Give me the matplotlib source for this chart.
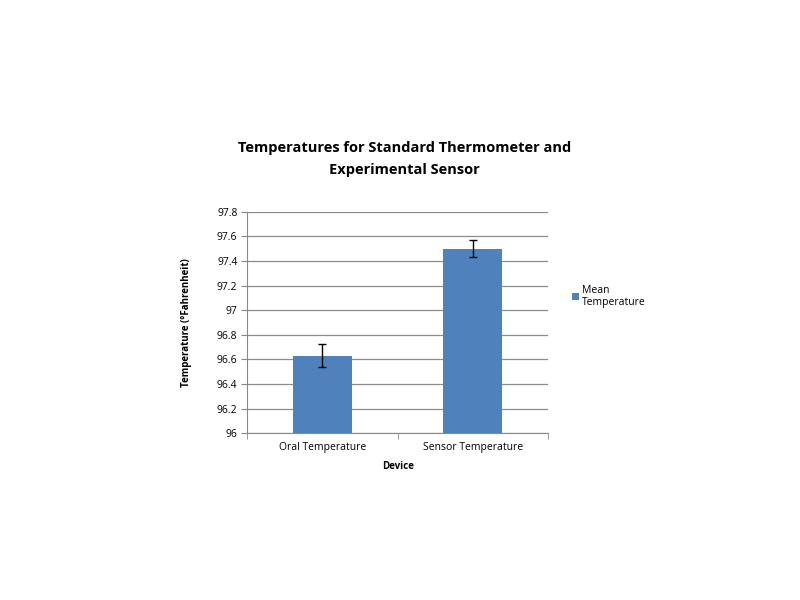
import matplotlib
matplotlib.use("Agg")
import matplotlib.pyplot as plt

categories = ["Oral Temperature", "Sensor Temperature"]
mean_temp = [96.63, 97.50]
err_temp = [0.095, 0.067]
yticks = [96, 96.2, 96.4, 96.6, 96.8, 97, 97.2, 97.4, 97.6, 97.8]
ytick_labels = ["96", "96.2", "96.4", "96.6", "96.8", "97", "97.2", "97.4", "97.6", "97.8"]

plt.rcParams["font.family"] = ["Open Sans", "DejaVu Sans"]

fig = plt.figure(figsize=(8, 6), dpi=100)
ax = fig.add_axes([0.309, 0.278, 0.376, 0.369])

x = list(range(len(categories)))
ax.bar(x, [m - 96 for m in mean_temp], bottom=96, width=0.39, color="#4f81bd",
       label="Mean\nTemperature", zorder=3)
ax.errorbar(x, mean_temp, yerr=err_temp, fmt="none", ecolor="black", elinewidth=1,
            capsize=3, capthick=1, zorder=4)

ax.set_ylim(96, 97.8)
ax.set_xlim(-0.5, 1.5)
ax.set_yticks(yticks)
ax.set_yticklabels(ytick_labels, fontsize=7.5)
ax.set_xticks(x)
ax.set_xticklabels(categories, fontsize=7.5)
ax.set_xticks([-0.5, 0.5, 1.5], minor=True)
ax.tick_params(axis="x", which="major", length=0, pad=6)
ax.tick_params(axis="x", which="minor", length=4, color="#888888")
ax.tick_params(axis="y", length=4, color="#888888", pad=3)
ax.yaxis.grid(True, color="#8c8c8c", lw=0.9, zorder=0)
for side in ["top", "right"]:
    ax.spines[side].set_visible(False)
for side in ["left", "bottom"]:
    ax.spines[side].set_color("#888888")

ax.set_xlabel("Device", fontsize=7, fontweight="bold", labelpad=6)
ax.set_ylabel("Temperature (°Fahrenheit)", fontsize=7, fontweight="bold", labelpad=18)

fig.text(0.506, 0.735, "Temperatures for Standard Thermometer and\nExperimental Sensor",
         ha="center", va="center", fontsize=10.5, fontweight="bold", linespacing=1.8)

ax.legend(loc="upper left", bbox_to_anchor=(1.065, 0.69), fontsize=7.5, frameon=False,
          handlelength=0.7, handleheight=0.7, handletextpad=0.3, borderaxespad=0)

fig.savefig("out.png", dpi=100)
